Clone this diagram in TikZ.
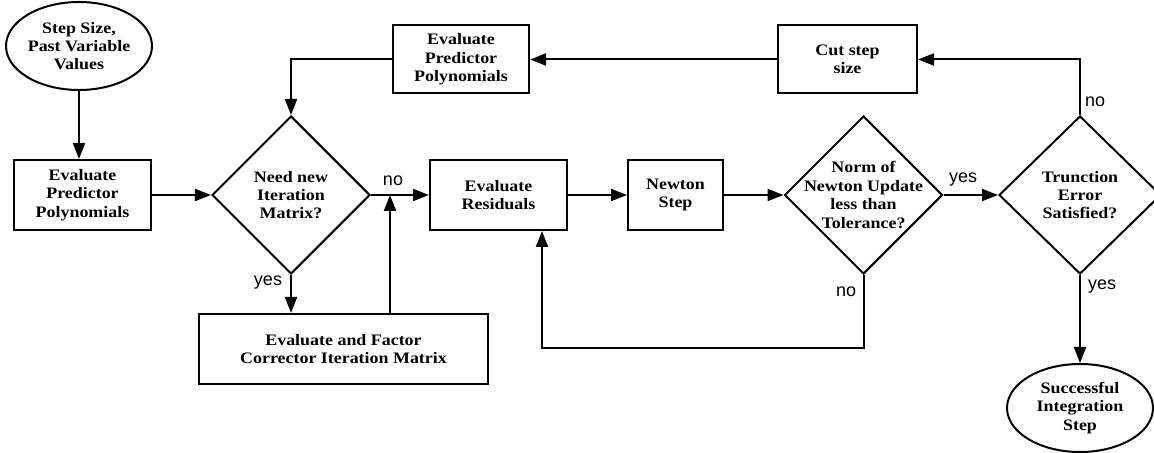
\documentclass[tikz,border=0pt]{standalone}
\usepackage{fontspec}
\setmainfont[FakeStretch=1.12]{Liberation Serif}
\newfontfamily\labelfont{Liberation Sans}
\usetikzlibrary{shapes.geometric,arrows.meta}

\begin{document}
\begin{tikzpicture}[x=0.5pt, y=-0.5pt,
  every node/.style={font=\fontsize{8}{9.2}\selectfont\bfseries, align=center},
  proc/.style={draw, line width=1pt, rectangle, inner sep=0pt, minimum height=35pt},
  term/.style={draw, ellipse, line width=1pt, inner sep=0pt,
               minimum width=73pt, minimum height=44pt},
  decision/.style={draw, diamond, line width=1pt, inner sep=0pt,
                   minimum width=79pt, minimum height=79pt},
  flow/.style={line width=1pt, -{Triangle[length=8pt, width=6pt]}},
  ans/.style={font=\labelfont\fontsize{9}{10}\selectfont, inner sep=0pt}
]
\useasboundingbox (0,0) rectangle (1154,453);

% start and end terminals
\node[term] (start) at (79,46) {Step Size,\\Past Variable\\Values};
\node[term] (done) at (1080,408) {Successful\\Integration\\Step};

% process boxes
\node[proc, minimum width=68.5pt] (pred) at (82.5,195) {Evaluate\\Predictor\\Polynomials};
\node[proc, minimum width=144.5pt] (factor) at (343.5,349) {Evaluate and Factor\\Corrector Iteration Matrix};
\node[proc, minimum width=68.5pt] (resid) at (498.5,195) {Evaluate\\Residuals};
\node[proc, minimum width=47.5pt] (newton) at (675.5,195) {Newton\\Step};
\node[proc, minimum width=69.5pt, minimum height=34pt] (cut) at (847.5,59.5) {Cut step\\size};
\node[proc, minimum width=68pt, minimum height=34pt] (pred2) at (461,59.5) {Evaluate\\Predictor\\Polynomials};

% decisions
\node[decision, label={center:{Need new\\Iteration\\Matrix?}}] (needm) at (291,195) {};
\node[decision, label={center:{Norm of\\Newton Update\\less than\\Tolerance?}}] (norm) at (863.5,195) {};
\node[decision, minimum width=81pt, label={center:{Trunction\\Error\\Satisfied?}}] (trunc) at (1080,195) {};

% branch labels
\node[ans] (noA) at (393,181) {no};
\node[ans] (yesA) at (268,283) {yes};
\node[ans] (yesB) at (963,180) {yes};
\node[ans] (noB) at (846,292) {no};
\node[ans] (noC) at (1095,102) {no};
\node[ans] (yesC) at (1102,287) {yes};

% helper points for the loops
\coordinate (join) at (390,195);
\coordinate (back) at (542,348);

% connectors
\draw[flow] (start) -- (start |- pred.north);
\draw[flow] (pred) -- (needm);
\draw[flow] (needm.east) -- (resid.west);
\draw[flow] (needm.south) -- (needm.south |- factor.north);
\draw[flow] (factor.north -| join) -- (join);
\draw[flow] (resid) -- (newton);
\draw[flow] (newton) -- (norm);
\draw[flow] (norm.east) -- (trunc.west);
\draw[flow] (norm.south) |- (back) -- (back |- resid.south);
\draw[flow] (trunc.north) |- (cut.east);
\draw[flow] (cut) -- (pred2);
\draw[flow] (pred2.west) -| (needm.north);
\draw[flow] (trunc.south) -- (done.north);
\end{tikzpicture}
\end{document}
